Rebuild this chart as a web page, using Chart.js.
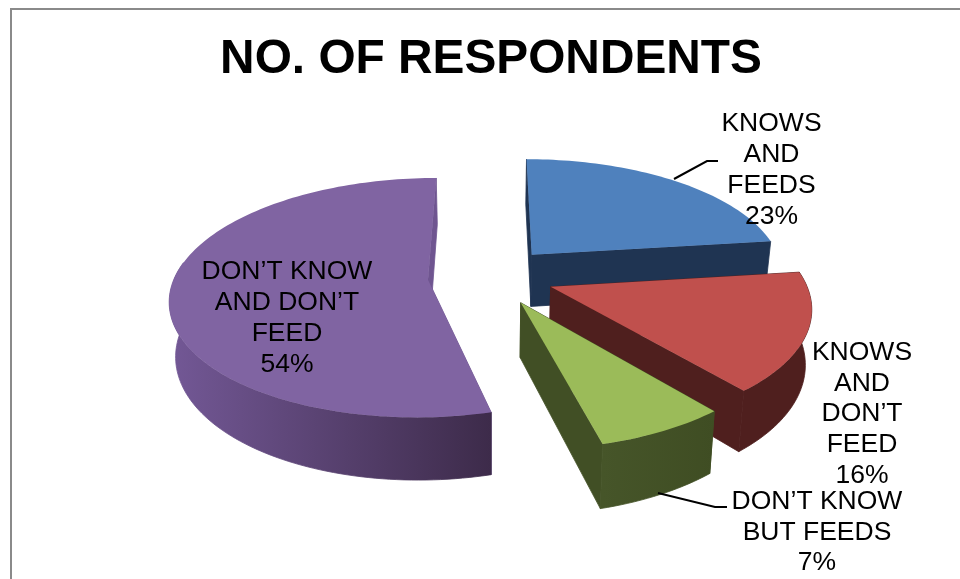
<!DOCTYPE html>
<html>
<head>
<meta charset="utf-8">
<title>No. of respondents</title>
<script src="https://cdn.jsdelivr.net/npm/chart.js@4"></script>
<style>
  html, body { margin: 0; padding: 0; background: #fff; }
  canvas { display: block; }
</style>
</head>
<body>
<canvas id="grafico" width="960" height="579"></canvas>
<script>
const titolo = 'NO. OF RESPONDENTS';
const categorie = ['KNOWS AND FEEDS', 'KNOWS AND DON\u2019T FEED', 'DON\u2019T KNOW BUT FEEDS', 'DON\u2019T KNOW AND DON\u2019T FEED'];
const righe_etichette = [
  ['KNOWS', 'AND', 'FEEDS'],
  ['KNOWS', 'AND', 'DON\u2019T', 'FEED'],
  ['DON\u2019T KNOW', 'BUT FEEDS'],
  ['DON\u2019T KNOW', 'AND DON\u2019T', 'FEED']
];
const percentuali = [23, 16, 7, 54];
const colori = ['#4F81BD', '#C0504D', '#9BBB59', '#8064A2'];
// outer wall: gradient left to right
const colori_fianco = [
  ['#1F3452', '#1F3452'],
  ['#4F1F1E', '#4F1F1E'],
  ['#465529', '#3F4D23'],
  ['#735896', '#3D2B4A']
];
// flat walls along the cuts
const colori_parete = ['#1F3452', '#4F1F1E', '#414F25', '#6F5590'];
const esplosione = 25; // percent of the radius, same for every slice

// position of the first line of each label, centered on x
const pos_etichette = [
  {x: 771.5, y: 124},
  {x: 862, y: 352.5},
  {x: 817, y: 501.5},
  {x: 287, y: 272}
];
const passo_riga = 30.8;

// leader lines for the two labels that sit away from their slice
const linee_guida = [
  [[674, 179], [707, 161], [718, 161]],
  [[658, 493], [715, 507], [727, 507]]
];

// camera of the 3D view
const vista = {cx: 491, cy: 276, raggio: 253, schiacciamento: 0.458, prospettiva: 0.15, altezza: 53, fuga: 0.02};

function proietta(u, v, z) {
  const s = 1 / (1 - vista.prospettiva * v);
  return [
    vista.cx + vista.raggio * u * s * (1 - vista.fuga * z),
    vista.cy + vista.raggio * vista.schiacciamento * v * s + vista.altezza * s * z
  ];
}

function punti_arco(arco, esp, z) {
  const mezzo = (arco.startAngle + arco.endAngle) / 2;
  const u0 = Math.cos(mezzo) * esp;
  const v0 = Math.sin(mezzo) * esp;
  const passi = Math.max(8, Math.ceil((arco.endAngle - arco.startAngle) * 40));
  const punti = [];
  const verso_noi = [];
  for (let i = 0; i <= passi; i++) {
    const a = arco.startAngle + (arco.endAngle - arco.startAngle) * i / passi;
    const p = proietta(u0 + Math.cos(a), v0 + Math.sin(a), z);
    punti.push(p);
    // the far part of the rim never shows
    if (Math.sin(a) > -0.15) verso_noi.push(p);
  }
  return {centro: proietta(u0, v0, z), punti: punti, verso_noi: verso_noi};
}

function riempi(ctx, punti, colore, bordo) {
  ctx.beginPath();
  punti.forEach((p, i) => (i ? ctx.lineTo(p[0], p[1]) : ctx.moveTo(p[0], p[1])));
  ctx.closePath();
  ctx.fillStyle = colore;
  ctx.fill();
  if (bordo) {
    // closes the hairline seam between walls of the same colour
    ctx.strokeStyle = colore;
    ctx.lineWidth = 0.8;
    ctx.stroke();
  }
}

// the arcs keep the angles computed by the pie controller, only the painting is 3D
const torta3d = {
  id: 'torta3d',
  beforeDraw(chart) {
    const ctx = chart.ctx;
    ctx.save();
    ctx.strokeStyle = '#8A8A8A';
    ctx.lineWidth = 2;
    ctx.beginPath();
    ctx.moveTo(11, 579);
    ctx.lineTo(11, 9);
    ctx.lineTo(960, 9);
    ctx.stroke();
    ctx.restore();
  },
  beforeDatasetsDraw(chart) {
    const ctx = chart.ctx;
    const archi = chart.getDatasetMeta(0).data;
    // back to front: purple, blue, red, green
    [3, 0, 1, 2].forEach((i) => {
      const arco = archi[i];
      const esp = arco.options.offset / 100;
      const sopra = punti_arco(arco, esp, 0);
      const sotto = punti_arco(arco, esp, 1);
      const ultimo = sopra.punti.length - 1;
      riempi(ctx, [sopra.centro, sopra.punti[0], sotto.punti[0], sotto.centro], colori_parete[i], true);
      riempi(ctx, [sopra.centro, sopra.punti[ultimo], sotto.punti[ultimo], sotto.centro], colori_parete[i], true);
      if (sopra.verso_noi.length > 1) {
        const xs = sopra.verso_noi.map((p) => p[0]);
        const grad = ctx.createLinearGradient(Math.min(...xs), 0, Math.max(...xs), 0);
        grad.addColorStop(0, colori_fianco[i][0]);
        grad.addColorStop(1, colori_fianco[i][1]);
        riempi(ctx, sopra.verso_noi.concat(sotto.verso_noi.slice().reverse()), grad, true);
      }
      riempi(ctx, [sopra.centro].concat(sopra.punti), arco.options.backgroundColor, false);
    });
    return false;
  },
  afterDraw(chart) {
    const ctx = chart.ctx;
    ctx.save();
    ctx.strokeStyle = '#000';
    ctx.lineWidth = 2;
    linee_guida.forEach((linea) => {
      ctx.beginPath();
      linea.forEach((p, i) => (i ? ctx.lineTo(p[0], p[1]) : ctx.moveTo(p[0], p[1])));
      ctx.stroke();
    });
    ctx.fillStyle = '#000';
    ctx.font = '26.5px "Liberation Sans"';
    ctx.textAlign = 'center';
    ctx.textBaseline = 'middle';
    righe_etichette.forEach((righe, i) => {
      righe.concat(percentuali[i] + '%').forEach((testo, r) => {
        ctx.fillText(testo, pos_etichette[i].x, pos_etichette[i].y + r * passo_riga);
      });
    });
    ctx.restore();
  }
};

new Chart(document.getElementById('grafico'), {
  type: 'pie',
  data: {
    labels: categorie,
    datasets: [{
      data: percentuali,
      backgroundColor: colori,
      borderWidth: 0,
      offset: esplosione
    }]
  },
  options: {
    responsive: false,
    animation: false,
    layout: {padding: {left: 22}},
    plugins: {
      legend: {display: false},
      tooltip: {enabled: false},
      title: {
        display: true,
        text: titolo,
        color: '#000',
        font: {family: '"Liberation Sans"', size: 47.8, weight: 'bold'},
        padding: {top: 31, bottom: 10}
      }
    }
  },
  plugins: [torta3d]
});
</script>
</body>
</html>
